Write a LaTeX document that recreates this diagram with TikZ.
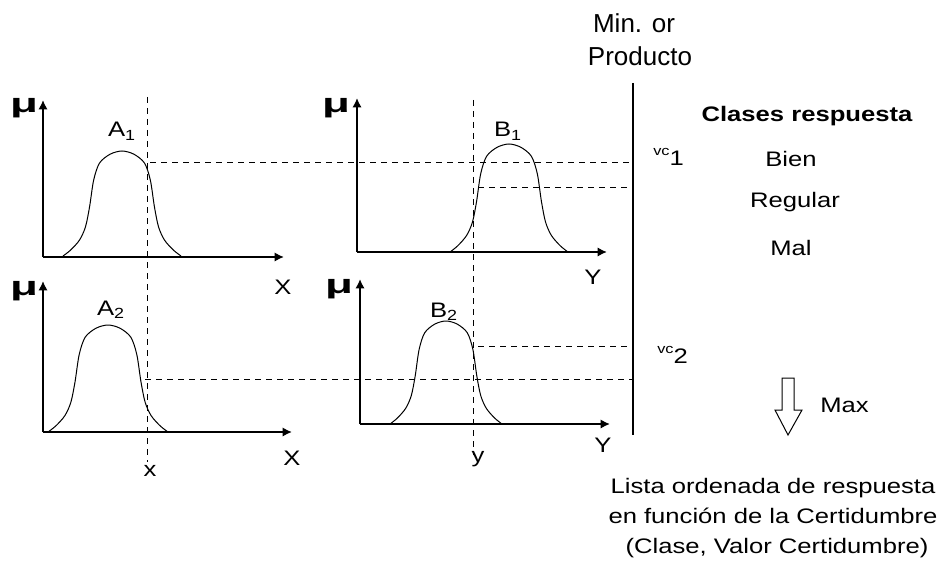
\documentclass[tikz,border=0pt]{standalone}
\usepackage{fontspec}
\setmainfont{Liberation Sans}[FakeStretch=1.22]
\newfontfamily\plainsans{Liberation Sans}
\usetikzlibrary{arrows.meta}

\begin{document}
\begin{tikzpicture}[x=0.75pt,y=-0.75pt,
  font=\fontsize{15.75}{22.5}\selectfont,
  axis/.style={line width=2.2pt,-{Latex[length=7pt,width=7pt]}},
  guide/.style={line width=0.75pt,dash pattern=on 4.5pt off 3.75pt},
  bell/.style={line width=0.75pt},
  lbl/.style={inner sep=0pt,anchor=base},
  mu/.style={inner sep=0pt,anchor=base,font=\fontsize{20}{20}\selectfont\bfseries}
]
\useasboundingbox (0,0) rectangle (944,570);
% four membership panels: A1, B1 on top, A2, B2 below
\coordinate (oA1) at (43,257);  \coordinate (oB1) at (357,252);
\coordinate (oA2) at (43,432);  \coordinate (oB2) at (360,424);
\draw[axis] (oA1) -- (43,100);  \draw[axis] (oA1) -- (284,257);
\draw[axis] (oB1) -- (357,98);  \draw[axis] (oB1) -- (607,252);
\draw[axis] (oA2) -- (43,281);  \draw[axis] (oA2) -- (292,432);
\draw[axis] (oB2) -- (360,279); \draw[axis] (oB2) -- (610,424);
% bell-shaped fuzzy sets (centre/base/half width/height)
\foreach \cx/\by/\w/\h in {122/256/59/105, 509/252/59/108, 108/432/60/107, 446/424/56/103}
  \draw[bell,shift={(\cx,\by)},xscale=\w,yscale=-\h] plot[smooth] coordinates {(-1,0) (-0.87,0.057) (-0.72,0.152) (-0.62,0.276) (-0.55,0.467) (-0.48,0.724) (-0.38,0.886) (-0.2,0.97) (0,1) (0.2,0.97) (0.38,0.886) (0.48,0.724) (0.55,0.467) (0.62,0.276) (0.72,0.152) (0.87,0.057) (1,0)};
\node[mu] (muA1) at (24,113) {\scalebox{1.4}[1]{μ}};
\node[mu] (muB1) at (336,113) {\scalebox{1.4}[1]{μ}};
\node[mu] (muA2) at (24,295) {\scalebox{1.4}[1]{μ}};
\node[mu] (muB2) at (339,293) {\scalebox{1.4}[1]{μ}};
\node[lbl] (labA1) at (122,137) {A\textsubscript{1}};
\node[lbl] (labB1) at (508,137) {B\textsubscript{1}};
\node[lbl] (labA2) at (111,315) {A\textsubscript{2}};
\node[lbl] (labB2) at (444,317) {B\textsubscript{2}};
\node[lbl] (axX1) at (283,294) {X};
\node[lbl] (axY1) at (593,284) {Y};
\node[lbl] (axX2) at (292,465) {X};
\node[lbl] (axY2) at (603,452) {Y};
% crisp inputs x and y
\coordinate (xtop) at (147,97);  \coordinate (xbot) at (147,462);
\coordinate (ytop) at (473,100); \coordinate (ybot) at (473,455);
\draw[guide] (xtop) -- (xbot);
\draw[guide] (ytop) -- (ybot);
\node[lbl] (xin) at (150,476) {x};
\node[lbl] (yin) at (478,462) {y};
% min / product bar
\coordinate (bartop) at (633,83); \coordinate (barbot) at (633,435);
\draw[line width=2.2pt] (bartop) -- (barbot);
\coordinate (cutA1) at (150,163); \coordinate (cutB1) at (478,188);
\coordinate (cutA2) at (145,379); \coordinate (cutB2) at (478,346);
\draw[guide] (cutA1) -- (cutA1 -| bartop);
\draw[guide] (cutB1) -- (cutB1 -| bartop);
\draw[guide] (cutA2) -- (cutA2 -| bartop);
\draw[guide] (cutB2) -- (cutB2 -| bartop);
\node[lbl,font=\plainsans\fontsize{19.5}{24}\selectfont] (minor) at (634,33) {Min. or};
\node[lbl,font=\plainsans\fontsize{19.5}{24}\selectfont] (prod) at (640,66) {Producto};
\node[lbl,anchor=base west] (vc1) at (653,163) {{\fontsize{10}{10}\selectfont\raisebox{0.55em}{vc}}\raisebox{-0.1em}{1}};
\node[lbl,anchor=base west] (vc2) at (657,361) {{\fontsize{10}{10}\selectfont\raisebox{0.55em}{vc}}\raisebox{-0.1em}{2}};
% response classes
\node[lbl,font=\fontsize{15.75}{18}\selectfont\bfseries] (clases) at (807,122) {Clases respuesta};
\node[lbl] (bien) at (791,167) {Bien};
\node[lbl] (regular) at (795,208) {Regular};
\node[lbl] (mal) at (791,255) {Mal};
\draw[line width=0.75pt] (782,378) -- (794,378) -- (794,410) -- (802,410) -- (788,435) -- (775,410) -- (782,410) -- cycle;
\node[lbl,anchor=base west] (maxop) at (820,412) {Max};
\node[lbl] (lista1) at (773,493) {Lista ordenada de respuesta};
\node[lbl] (lista2) at (773,523) {en función de la Certidumbre};
\node[lbl] (lista3) at (777,553) {(Clase, Valor Certidumbre)};
\end{tikzpicture}
\end{document}
